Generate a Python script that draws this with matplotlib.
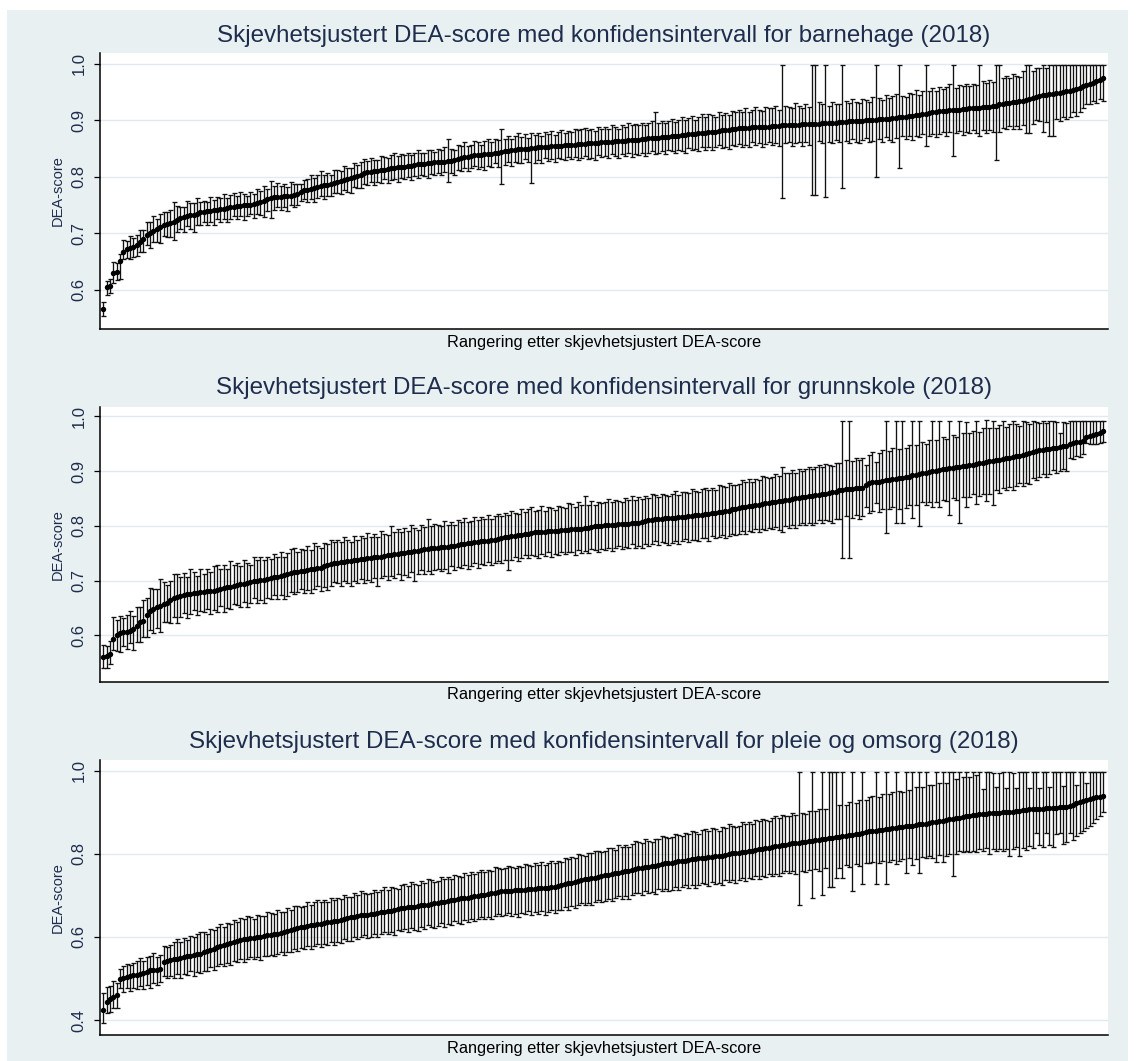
import numpy as np
import matplotlib
matplotlib.use("Agg")
import matplotlib.pyplot as plt
from matplotlib.patches import Rectangle

# ---------------- data (values in thousandths of DEA-score) ----------------
titles = [
    "Skjevhetsjustert DEA-score med konfidensintervall for barnehage (2018)",
    "Skjevhetsjustert DEA-score med konfidensintervall for grunnskole (2018)",
    "Skjevhetsjustert DEA-score med konfidensintervall for pleie og omsorg (2018)",
]
xlabel_text = "Rangering etter skjevhetsjustert DEA-score"
ylabel_text = "DEA-score"

ticks_1 = [0.6, 0.7, 0.8, 0.9, 1.0]
ticks_2 = [0.6, 0.7, 0.8, 0.9, 1.0]
ticks_3 = [0.4, 0.6, 0.8, 1.0]
ticklabels_1 = ["0.6", "0.7", "0.8", "0.9", "1.0"]
ticklabels_2 = ["0.6", "0.7", "0.8", "0.9", "1.0"]
ticklabels_3 = ["0.4", "0.6", "0.8", "1.0"]

# barnehage
score_1 = [
    566, 605, 607, 630, 632, 652, 668, 672, 674, 676,
    680, 684, 690, 697, 700, 704, 707, 711, 715, 717,
    719, 721, 724, 727, 729, 731, 732, 733, 735, 737,
    738, 739, 740, 741, 742, 743, 744, 745, 746, 747,
    748, 749, 750, 751, 751, 752, 753, 755, 757, 760,
    763, 764, 765, 765, 766, 766, 767, 768, 770, 773,
    776, 777, 779, 781, 782, 784, 785, 786, 788, 789,
    791, 793, 794, 796, 798, 800, 802, 804, 806, 808,
    809, 810, 811, 812, 813, 814, 815, 816, 817, 818,
    818, 819, 820, 821, 822, 822, 823, 824, 825, 826,
    826, 827, 827, 828, 828, 829, 831, 833, 835, 836,
    837, 838, 839, 839, 840, 840, 841, 842, 843, 844,
    845, 846, 847, 848, 849, 849, 850, 850, 851, 851,
    852, 852, 853, 853, 854, 854, 855, 855, 856, 856,
    857, 857, 858, 858, 858, 859, 859, 860, 860, 861,
    861, 862, 862, 863, 863, 864, 864, 865, 865, 866,
    866, 867, 867, 868, 868, 869, 869, 870, 871, 871,
    872, 872, 873, 874, 874, 875, 876, 876, 877, 878,
    878, 879, 880, 880, 881, 882, 882, 883, 884, 885,
    886, 886, 887, 887, 888, 888, 888, 889, 889, 889,
    890, 890, 890, 891, 891, 891, 892, 892, 892, 893,
    893, 893, 894, 894, 894, 895, 895, 895, 896, 896,
    897, 897, 897, 898, 898, 898, 899, 899, 900, 900,
    901, 901, 902, 902, 903, 903, 904, 904, 905, 906,
    906, 907, 908, 909, 910, 911, 912, 913, 914, 915,
    916, 917, 917, 918, 918, 919, 919, 920, 920, 921,
    921, 922, 922, 923, 924, 924, 925, 926, 928, 929,
    930, 931, 932, 933, 934, 935, 936, 938, 940, 942,
    943, 944, 945, 946, 947, 948, 949, 950, 951, 952,
    954, 956, 958, 960, 962, 964, 966, 969, 972, 975,
]
err_lo_1 = [
    12, 14, 12, 18, 14, 32, 14, 15, 20, 18,
    20, 16, 22, 18, 25, 20, 22, 28, 20, 24,
    26, 33, 22, 20, 26, 18, 24, 30, 20, 22,
    18, 24, 20, 26, 16, 22, 18, 25, 20, 17,
    22, 18, 26, 20, 16, 24, 19, 22, 28, 20,
    36, 22, 18, 24, 20, 26, 17, 22, 19, 15,
    16, 22, 18, 25, 20, 17, 24, 19, 22, 18,
    20, 24, 17, 22, 26, 18, 21, 24, 19, 23,
    18, 25, 20, 22, 17, 24, 21, 19, 26, 20,
    22, 19, 25, 20, 24, 18, 22, 26, 20, 23,
    20, 24, 19, 37, 22, 25, 18, 23, 20, 26,
    22, 19, 25, 21, 28, 20, 24, 18, 26, 57,
    24, 20, 27, 22, 25, 25, 19, 24, 62, 26,
    22, 27, 20, 25, 23, 28, 21, 24, 26, 20,
    26, 22, 28, 24, 21, 27, 25, 30, 22, 26,
    24, 28, 22, 26, 30, 24, 27, 23, 29, 25,
    28, 24, 30, 26, 23, 29, 27, 25, 31, 24,
    26, 30, 25, 28, 32, 24, 29, 27, 31, 26,
    30, 26, 33, 28, 25, 31, 29, 34, 27, 30,
    28, 33, 30, 35, 27, 32, 29, 36, 31, 28,
    34, 30, 36, 128, 32, 29, 37, 33, 30, 38,
    32, 36, 126, 126, 31, 35, 130, 33, 37, 30,
    35, 117, 33, 38, 31, 36, 40, 34, 32, 39,
    37, 101, 35, 40, 33, 38, 42, 36, 89, 34,
    39, 35, 43, 37, 40, 36, 58, 41, 38, 44,
    40, 37, 45, 39, 82, 42, 38, 46, 40, 43,
    38, 44, 50, 40, 47, 41, 45, 96, 48, 42,
    45, 41, 47, 43, 49, 44, 59, 61, 46, 42,
    44, 64, 48, 73, 74, 46, 50, 45, 49, 47,
    40, 48, 44, 38, 34, 36, 32, 38, 35, 40,
]
err_hi_1 = [
    12, 10, 12, 20, 15, 12, 20, 14, 22, 16,
    18, 22, 16, 24, 20, 26, 18, 24, 22, 20,
    22, 35, 24, 20, 18, 26, 22, 20, 28, 18,
    20, 16, 24, 18, 22, 20, 26, 17, 22, 24,
    18, 24, 20, 16, 22, 18, 25, 20, 26, 18,
    30, 20, 24, 18, 22, 16, 24, 20, 18, 14,
    18, 20, 24, 17, 22, 26, 18, 21, 16, 24,
    22, 18, 25, 20, 17, 24, 19, 22, 26, 20,
    24, 20, 18, 25, 22, 19, 23, 26, 20, 22,
    20, 24, 18, 22, 26, 21, 19, 24, 22, 18,
    24, 20, 26, 39, 21, 18, 25, 22, 27, 19,
    20, 26, 22, 18, 24, 27, 20, 25, 22, 40,
    22, 27, 20, 24, 28, 21, 25, 19, 26, 23,
    25, 21, 26, 22, 27, 20, 24, 28, 21, 25,
    22, 27, 24, 26, 29, 23, 25, 21, 28, 24,
    27, 23, 29, 25, 22, 28, 24, 30, 26, 28,
    25, 29, 24, 28, 30, 46, 26, 29, 24, 28,
    30, 25, 28, 32, 26, 29, 31, 25, 28, 33,
    27, 32, 29, 26, 34, 28, 31, 27, 33, 29,
    33, 29, 35, 28, 31, 36, 30, 27, 34, 32,
    31, 36, 29, 106, 35, 32, 30, 38, 34, 29,
    36, 31, 103, 103, 38, 34, 102, 30, 37, 33,
    32, 100, 37, 33, 40, 35, 31, 38, 36, 33,
    40, 96, 38, 34, 41, 36, 39, 43, 92, 37,
    36, 42, 38, 44, 35, 41, 85, 39, 43, 37,
    43, 39, 41, 46, 79, 38, 44, 40, 45, 39,
    44, 40, 75, 46, 42, 48, 43, 71, 69, 45,
    48, 44, 50, 46, 43, 52, 61, 59, 47, 50,
    50, 53, 47, 52, 50, 49, 48, 47, 46, 45,
    43, 41, 39, 37, 35, 33, 31, 28, 25, 22,
]

# grunnskole
score_2 = [
    560, 563, 566, 593, 600, 604, 606, 607, 609, 612,
    618, 624, 626, 638, 644, 648, 651, 654, 657, 660,
    664, 668, 670, 672, 674, 675, 676, 677, 678, 679,
    680, 681, 681, 682, 683, 684, 686, 688, 689, 691,
    692, 693, 694, 696, 697, 699, 700, 701, 702, 703,
    704, 706, 707, 709, 711, 712, 714, 715, 716, 717,
    718, 719, 721, 722, 723, 724, 726, 728, 730, 733,
    733, 734, 734, 735, 736, 737, 738, 739, 740, 741,
    742, 743, 743, 744, 745, 746, 747, 748, 749, 750,
    751, 752, 753, 754, 755, 756, 757, 758, 759, 760,
    760, 761, 762, 762, 763, 764, 765, 766, 767, 768,
    769, 770, 771, 772, 772, 773, 774, 775, 776, 778,
    779, 780, 781, 782, 783, 784, 785, 786, 787, 788,
    788, 789, 789, 790, 790, 791, 791, 792, 792, 793,
    794, 794, 795, 795, 796, 797, 798, 799, 800, 800,
    801, 801, 802, 802, 803, 803, 804, 804, 805, 806,
    806, 807, 808, 810, 811, 812, 812, 813, 814, 814,
    815, 815, 816, 816, 817, 818, 818, 819, 820, 820,
    821, 822, 823, 824, 825, 826, 827, 828, 830, 831,
    833, 834, 835, 836, 837, 838, 839, 840, 841, 842,
    843, 844, 845, 846, 847, 848, 849, 850, 851, 852,
    853, 854, 855, 856, 857, 858, 859, 860, 861, 862,
    865, 866, 867, 867, 868, 869, 869, 870, 875, 879,
    880, 880, 881, 882, 883, 884, 885, 886, 887, 888,
    889, 890, 892, 893, 894, 896, 897, 898, 900, 901,
    902, 903, 904, 905, 906, 907, 908, 909, 910, 911,
    912, 913, 914, 915, 916, 918, 919, 920, 921, 922,
    923, 924, 926, 927, 928, 930, 932, 933, 935, 936,
    938, 939, 940, 941, 942, 943, 944, 945, 946, 950,
    952, 953, 954, 955, 962, 964, 966, 968, 970, 973,
]
err_lo_2 = [
    20, 22, 18, 20, 28, 35, 25, 32, 22, 38,
    30, 36, 28, 40, 34, 44, 38, 47, 32, 36,
    42, 35, 47, 38, 33, 44, 36, 30, 41, 34,
    38, 32, 42, 36, 40, 30, 44, 38, 40, 34,
    36, 42, 33, 45, 38, 31, 40, 36, 43, 34,
    38, 33, 41, 36, 44, 40, 35, 40, 37, 32,
    41, 36, 44, 38, 33, 42, 37, 45, 39, 35,
    37, 43, 35, 40, 46, 38, 42, 36, 44, 39,
    44, 38, 52, 40, 36, 45, 39, 43, 37, 48,
    40, 46, 38, 55, 42, 37, 44, 40, 47, 41,
    39, 44, 41, 48, 37, 45, 40, 43, 38, 46,
    43, 38, 47, 41, 44, 39, 46, 42, 40, 45,
    41, 60, 44, 39, 47, 42, 38, 45, 41, 43,
    46, 40, 44, 38, 47, 42, 45, 39, 43, 41,
    42, 47, 39, 44, 41, 46, 40, 43, 48, 42,
    45, 41, 48, 43, 40, 46, 42, 44, 39, 47,
    43, 48, 41, 46, 44, 40, 47, 42, 45, 49,
    46, 42, 49, 44, 41, 47, 43, 45, 48, 42,
    44, 49, 42, 47, 45, 43, 50, 46, 44, 48,
    47, 43, 50, 45, 48, 44, 51, 46, 49, 45,
    49, 46, 52, 57, 48, 51, 47, 53, 49, 46,
    51, 48, 54, 50, 47, 53, 49, 52, 55, 50,
    52, 125, 49, 126, 54, 50, 56, 52, 40, 55,
    53, 39, 56, 51, 96, 54, 50, 81, 57, 83,
    56, 52, 78, 55, 94, 53, 58, 54, 65, 57,
    67, 55, 59, 85, 56, 60, 103, 57, 75, 58,
    54, 73, 60, 56, 70, 59, 80, 55, 61, 52,
    57, 53, 61, 55, 50, 58, 54, 56, 48, 52,
    49, 45, 51, 47, 40, 46, 44, 42, 45, 26,
    30, 25, 28, 24, 10, 14, 16, 18, 18, 20,
]
err_hi_2 = [
    22, 18, 24, 40, 28, 32, 26, 30, 35, 24,
    34, 28, 38, 30, 42, 36, 33, 49, 40, 32,
    36, 44, 42, 34, 40, 32, 45, 38, 30, 42,
    32, 40, 35, 44, 46, 38, 42, 33, 46, 37,
    40, 34, 43, 36, 31, 44, 38, 42, 35, 40,
    35, 42, 37, 44, 33, 39, 43, 45, 36, 41,
    38, 44, 35, 46, 40, 36, 43, 39, 45, 37,
    42, 36, 45, 39, 34, 44, 37, 43, 38, 46,
    38, 43, 36, 47, 41, 37, 52, 40, 45, 39,
    45, 39, 48, 42, 38, 46, 41, 55, 40, 44,
    42, 38, 46, 40, 44, 37, 45, 41, 48, 39,
    40, 46, 39, 44, 41, 47, 38, 43, 46, 40,
    44, 39, 47, 42, 38, 46, 41, 44, 48, 40,
    41, 47, 39, 45, 42, 38, 46, 43, 40, 48,
    46, 41, 49, 43, 58, 42, 47, 40, 44, 41,
    42, 48, 41, 46, 43, 40, 47, 44, 49, 42,
    47, 42, 46, 40, 48, 44, 41, 46, 43, 40,
    43, 48, 41, 46, 44, 42, 49, 45, 41, 47,
    48, 43, 47, 42, 49, 46, 44, 50, 45, 43,
    44, 50, 46, 49, 43, 47, 45, 51, 48, 46,
    47, 51, 46, 62, 50, 48, 53, 47, 52, 49,
    50, 53, 48, 52, 55, 49, 54, 51, 48, 53,
    49, 126, 53, 125, 50, 55, 51, 54, 36, 50,
    55, 36, 52, 57, 109, 53, 58, 106, 54, 104,
    53, 58, 100, 54, 98, 57, 52, 59, 92, 56,
    90, 59, 55, 87, 60, 56, 84, 61, 80, 58,
    62, 79, 57, 63, 77, 61, 73, 58, 64, 70,
    58, 62, 66, 59, 55, 62, 57, 53, 57, 54,
    50, 53, 47, 51, 50, 46, 26, 44, 42, 42,
    40, 39, 38, 36, 30, 28, 26, 24, 22, 19,
]

# pleie og omsorg
score_3 = [
    424, 444, 450, 456, 460, 500, 502, 504, 506, 508,
    509, 511, 513, 516, 520, 521, 521, 522, 540, 542,
    544, 546, 548, 550, 552, 553, 554, 556, 558, 560,
    563, 566, 569, 572, 576, 578, 580, 583, 586, 588,
    590, 592, 594, 595, 597, 598, 599, 600, 602, 604,
    605, 606, 608, 610, 612, 614, 616, 618, 621, 624,
    625, 627, 628, 630, 631, 632, 634, 635, 636, 638,
    639, 641, 643, 645, 648, 649, 650, 652, 653, 654,
    655, 656, 658, 659, 660, 662, 663, 665, 667, 669,
    670, 671, 672, 673, 675, 676, 677, 678, 680, 681,
    682, 684, 685, 686, 688, 689, 691, 693, 694, 695,
    697, 698, 699, 700, 702, 703, 705, 707, 708, 710,
    710, 711, 711, 712, 712, 713, 714, 715, 716, 716,
    717, 718, 718, 719, 720, 720, 722, 724, 727, 729,
    731, 733, 735, 737, 739, 740, 742, 743, 745, 747,
    749, 750, 752, 753, 755, 756, 758, 759, 761, 763,
    765, 766, 768, 769, 771, 772, 774, 775, 777, 778,
    779, 781, 782, 783, 784, 786, 787, 788, 789, 790,
    791, 792, 793, 794, 795, 796, 798, 800, 801, 802,
    803, 804, 805, 807, 808, 810, 811, 812, 814, 815,
    817, 818, 820, 821, 822, 824, 825, 826, 827, 828,
    829, 830, 832, 833, 834, 835, 836, 838, 839, 840,
    841, 842, 843, 845, 846, 848, 849, 850, 852, 854,
    855, 856, 857, 858, 860, 861, 862, 863, 864, 865,
    866, 867, 868, 870, 871, 872, 873, 875, 876, 877,
    879, 880, 881, 883, 884, 886, 887, 889, 890, 892,
    893, 894, 896, 897, 897, 898, 898, 899, 899, 900,
    900, 901, 902, 903, 904, 905, 906, 907, 908, 908,
    909, 909, 910, 910, 911, 911, 912, 913, 914, 915,
    918, 922, 926, 928, 930, 932, 934, 936, 938, 940,
]
err_lo_3 = [
    31, 27, 30, 28, 32, 22, 34, 28, 36, 30,
    35, 29, 38, 31, 42, 33, 37, 30, 34, 40,
    38, 45, 36, 48, 40, 44, 37, 50, 42, 47,
    44, 49, 41, 52, 46, 43, 50, 45, 53, 47,
    50, 46, 54, 48, 45, 52, 47, 55, 49, 51,
    48, 53, 50, 46, 55, 49, 52, 47, 54, 50,
    53, 49, 56, 51, 47, 55, 50, 54, 48, 57,
    51, 56, 49, 54, 58, 50, 55, 52, 48, 57,
    55, 50, 58, 53, 49, 56, 52, 60, 51, 54,
    52, 58, 50, 56, 61, 53, 57, 49, 55, 59,
    56, 51, 60, 54, 58, 50, 57, 62, 53, 59,
    54, 60, 56, 52, 59, 55, 62, 57, 53, 60,
    58, 54, 61, 56, 63, 55, 59, 53, 62, 57,
    61, 56, 64, 58, 54, 62, 57, 60, 55, 63,
    57, 63, 59, 55, 62, 58, 65, 60, 56, 64,
    62, 58, 66, 60, 57, 64, 59, 67, 61, 56,
    60, 66, 58, 64, 62, 68, 59, 65, 61, 67,
    65, 60, 69, 63, 58, 67, 62, 70, 64, 60,
    63, 69, 61, 67, 64, 70, 62, 68, 65, 72,
    67, 62, 71, 65, 69, 63, 72, 66, 70, 64,
    70, 66, 73, 68, 64, 71, 67, 74, 151, 69,
    72, 68, 139, 70, 75, 135, 71, 118, 119, 99,
    74, 101, 70, 76, 136, 72, 78, 122, 73, 77,
    75, 128, 79, 74, 132, 80, 76, 87, 81, 77,
    113, 78, 95, 82, 118, 79, 84, 80, 85, 97,
    81, 100, 86, 83, 138, 87, 79, 84, 82, 88,
    85, 89, 84, 90, 82, 98, 86, 91, 87, 92,
    88, 106, 90, 86, 108, 91, 96, 89, 93, 58,
    87, 92, 60, 88, 94, 62, 61, 90, 86, 65,
    84, 80, 76, 72, 68, 64, 59, 52, 46, 40,
]
err_hi_3 = [
    41, 36, 32, 38, 30, 24, 28, 32, 26, 30,
    32, 38, 30, 36, 33, 40, 31, 35, 38, 33,
    36, 42, 47, 38, 45, 40, 48, 43, 50, 51,
    48, 42, 51, 45, 49, 53, 44, 50, 46, 52,
    47, 53, 49, 55, 51, 46, 54, 50, 48, 56,
    52, 49, 56, 51, 47, 55, 50, 57, 53, 49,
    50, 56, 48, 54, 58, 51, 55, 49, 57, 52,
    55, 50, 58, 52, 49, 56, 51, 59, 54, 50,
    52, 58, 50, 55, 60, 51, 57, 53, 49, 56,
    57, 51, 60, 54, 50, 58, 53, 61, 56, 52,
    53, 60, 55, 58, 51, 61, 56, 52, 59, 55,
    60, 54, 58, 62, 55, 59, 53, 61, 57, 54,
    55, 61, 57, 53, 60, 56, 62, 58, 54, 61,
    57, 63, 55, 60, 64, 58, 61, 56, 62, 59,
    62, 58, 64, 60, 56, 63, 59, 65, 61, 57,
    59, 65, 61, 57, 66, 60, 64, 58, 62, 67,
    64, 59, 67, 62, 58, 65, 61, 68, 63, 60,
    61, 68, 63, 59, 66, 62, 69, 64, 60, 67,
    68, 63, 70, 65, 61, 69, 64, 71, 66, 62,
    65, 72, 66, 70, 63, 71, 67, 73, 68, 64,
    69, 74, 67, 72, 70, 66, 73, 68, 170, 71,
    67, 73, 165, 70, 74, 162, 72, 159, 158, 157,
    76, 155, 74, 79, 151, 75, 80, 147, 77, 82,
    84, 141, 80, 85, 137, 83, 86, 134, 88, 84,
    131, 87, 129, 90, 126, 88, 124, 91, 89, 120,
    92, 117, 90, 114, 113, 94, 110, 95, 107, 93,
    104, 96, 101, 60, 100, 99, 97, 62, 95, 97,
    58, 96, 92, 55, 93, 92, 91, 52, 89, 89,
    50, 88, 87, 52, 86, 86, 85, 50, 83, 82,
    79, 45, 71, 69, 40, 65, 63, 61, 59, 57,
]

panels = [
    (score_1, err_lo_1, err_hi_1, ticks_1, ticklabels_1, (0.531, 1.019)),
    (score_2, err_lo_2, err_hi_2, ticks_2, ticklabels_2, (0.515, 1.017)),
    (score_3, err_lo_3, err_hi_3, ticks_3, ticklabels_3, (0.364, 1.026)),
]

# ---------------- layout ----------------
W, H = 1136, 1061
BG = "#E8F0F2"
GRID = "#E1EAEE"
TXT = "#1F2D4D"
FONT = "Liberation Sans"

fig = plt.figure(figsize=(W / 100, H / 100), dpi=100)
fig.patch.set_facecolor("white")
bg = Rectangle((7 / W, 0), (1128 - 7) / W, (H - 10) / H,
               transform=fig.transFigure, facecolor=BG,
               edgecolor="none", zorder=-10)
fig.patches.append(bg)

# pixel boxes: (left, top, right, bottom)
boxes = [(100, 53, 1108, 329), (100, 407, 1108, 682), (100, 760, 1108, 1035)]
title_y = [36, 388, 742]
xlabel_y = [343, 694, 1048]

for k, (score, elo, ehi, ticks, tlabels, ylim) in enumerate(panels):
    l, t, r, b = boxes[k]
    ax = fig.add_axes([l / W, 1 - b / H, (r - l) / W, (b - t) / H])
    ax.set_zorder(1)
    ax.set_facecolor("white")
    n = min(len(score), len(elo), len(ehi))
    y = np.array(score[:n]) / 1000.0
    lo = np.array(elo[:n]) / 1000.0
    hi = np.array(ehi[:n]) / 1000.0
    x = np.arange(n)
    ax.errorbar(x, y, yerr=[lo, hi], fmt="none", ecolor="#111111",
                elinewidth=0.95, capsize=1.8, capthick=0.95, zorder=3)
    ax.plot(x, y, "o", color="black", ms=3.9, mew=0, zorder=4)
    ax.set_xlim(-1, n + 0.5)
    ax.set_ylim(*ylim)
    ax.set_yticks(ticks)
    ax.set_yticklabels(tlabels, rotation=90, va="center",
                       fontsize=12, family=FONT, color=TXT)
    ax.set_xticks([])
    ax.yaxis.grid(True, color=GRID, lw=1.0)
    ax.set_axisbelow(True)
    for s in ("top", "right"):
        ax.spines[s].set_visible(False)
    for s in ("left", "bottom"):
        ax.spines[s].set_color("black")
        ax.spines[s].set_linewidth(1.1)
    ax.tick_params(axis="y", direction="out", length=4.5, width=0.9,
                   color="black", pad=5)
    ax.set_ylabel(ylabel_text, fontsize=10.5, family=FONT, color=TXT,
                  labelpad=5)
    cx = (l + r) / 2 / W
    fig.text(cx, 1 - title_y[k] / H, titles[k], ha="center", va="center",
             fontsize=17.4, family=FONT, color=TXT)
    fig.text(cx, 1 - xlabel_y[k] / H, xlabel_text, ha="center", va="center",
             fontsize=11.8, family=FONT, color="black")

fig.savefig("out.png", dpi=100, facecolor=fig.get_facecolor())
